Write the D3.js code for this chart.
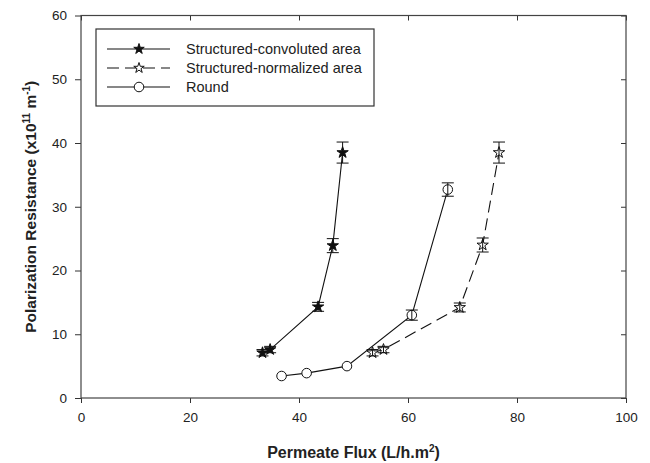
<!DOCTYPE html>
<html>
<head>
<meta charset="utf-8">
<script src="https://cdn.jsdelivr.net/npm/d3@7"></script>
<style>
    body { margin: 0; background: #fff; }
    text { font-family: Arial, "Liberation Sans", Helvetica, sans-serif; fill: #222; }
</style>
</head>
<body>
<div id="chart"></div>
<script>
// data
var convFlux = [33.3, 34.7, 43.5, 46.2, 48.0]
var convRes = [7.1, 7.6, 14.3, 23.9, 38.5]
var convErr = [0.5, 0.5, 0.7, 1.1, 1.65]

var normFlux = [53.5, 55.5, 69.5, 73.7, 76.7]
var normRes = [7.1, 7.6, 14.2, 24.0, 38.5]
var normErr = [0.5, 0.5, 0.7, 1.1, 1.65]

var roundFlux = [36.8, 41.4, 48.8, 60.7, 67.3]
var roundRes = [3.45, 3.9, 5.0, 13.0, 32.7]
var roundErr = [0, 0, 0, 0.8, 1.05]

var xTicks = [0, 20, 40, 60, 80, 100]
var yTicks = [0, 10, 20, 30, 40, 50, 60]
var seriesNames = ["Structured-convoluted area", "Structured-normalized area", "Round"]

var width = 650, height = 463
var plotLeft = 81, plotRight = 626, plotTop = 15.5, plotBottom = 398

var svg = d3.select("#chart").append("svg")
    .attr("width", width)
    .attr("height", height)

var x = d3.scaleLinear().domain([0, 100]).range([plotLeft, plotRight])
var y = d3.scaleLinear().domain([0, 60]).range([plotBottom, plotTop])

// axes
svg.append("g")
    .attr("transform", "translate(0," + plotBottom + ")")
    .call(d3.axisBottom(x).tickValues(xTicks).tickSize(5).tickSizeOuter(0).tickPadding(9))
svg.append("g")
    .attr("transform", "translate(" + plotLeft + ",0)")
    .call(d3.axisLeft(y).tickValues(yTicks).tickSize(6).tickSizeOuter(0).tickPadding(8))
svg.append("g")
    .attr("transform", "translate(0," + plotTop + ")")
    .call(d3.axisTop(x).tickValues(xTicks).tickSize(-5).tickSizeOuter(0).tickFormat(""))
svg.append("g")
    .attr("transform", "translate(" + plotRight + ",0)")
    .call(d3.axisRight(y).tickValues(yTicks).tickSize(-5).tickSizeOuter(0).tickFormat(""))

svg.selectAll(".domain").remove()
svg.selectAll(".tick line").attr("stroke", "#333")
svg.selectAll(".tick text")
    .style("font-size", "13.5px")
    .style("font-family", "Arial, 'Liberation Sans', sans-serif")
    .attr("fill", "#2a2a2a")

// frame
svg.append("rect")
    .attr("x", plotLeft)
    .attr("y", plotTop)
    .attr("width", plotRight - plotLeft)
    .attr("height", plotBottom - plotTop)
    .attr("fill", "none")
    .attr("stroke", "#444")
    .attr("stroke-width", 1.2)

// axis titles
var xTitle = svg.append("text")
    .attr("x", (plotLeft + plotRight) / 2)
    .attr("y", 458)
    .attr("text-anchor", "middle")
    .style("font-size", "16px")
    .style("font-weight", "bold")
xTitle.append("tspan").text("Permeate Flux (L/h.m")
xTitle.append("tspan").attr("dy", -6).style("font-size", "10px").text("2")
xTitle.append("tspan").attr("dy", 6).text(")")

var yTitle = svg.append("text")
    .attr("transform", "translate(36," + ((plotTop + plotBottom) / 2) + ") rotate(-90)")
    .attr("text-anchor", "middle")
    .style("font-size", "15.5px")
    .style("font-weight", "bold")
yTitle.append("tspan").text("Polarization Resistance (x10")
yTitle.append("tspan").attr("dy", -6).style("font-size", "10px").text("11")
yTitle.append("tspan").attr("dy", 6).text(" m")
yTitle.append("tspan").attr("dy", -6).style("font-size", "10px").text("-1")
yTitle.append("tspan").attr("dy", 6).text(")")

// series
var series = [
    { name: seriesNames[0], flux: convFlux, res: convRes, err: convErr, dash: null, shape: "star", fill: "#111" },
    { name: seriesNames[1], flux: normFlux, res: normRes, err: normErr, dash: "12,6", shape: "star", fill: "#fff" },
    { name: seriesNames[2], flux: roundFlux, res: roundRes, err: roundErr, dash: null, shape: "circle", fill: "#fff" }
]

var starSym = d3.symbol().type(d3.symbolStar).size(40)
var legendStar = d3.symbol().type(d3.symbolStar).size(34)
var circleSym = d3.symbol().type(d3.symbolCircle).size(72)

var line = d3.line()
    .x(function (d) { return x(d.f) })
    .y(function (d) { return y(d.r) })

series.forEach(function (s) {
    var pts = s.flux.map(function (f, i) { return { f: f, r: s.res[i], e: s.err[i] } })

    svg.append("path")
        .datum(pts)
        .attr("d", line)
        .attr("fill", "none")
        .attr("stroke", "#111")
        .attr("stroke-width", 1.1)
        .attr("stroke-dasharray", s.dash)

    svg.selectAll(null)
        .data(pts)
        .enter().append("path")
        .attr("transform", function (d) { return "translate(" + x(d.f) + "," + y(d.r) + ")" })
        .attr("d", s.shape == "star" ? starSym : circleSym)
        .attr("fill", s.fill)
        .attr("stroke", "#111")
        .attr("stroke-width", 1)

    // error bars on top of the symbols
    var eb = svg.selectAll(null)
        .data(pts.filter(function (d) { return d.e > 0 }))
        .enter().append("g")
        .attr("stroke", "#111")
        .attr("stroke-width", 1)
    eb.append("line")
        .attr("x1", function (d) { return x(d.f) })
        .attr("x2", function (d) { return x(d.f) })
        .attr("y1", function (d) { return y(d.r + d.e) })
        .attr("y2", function (d) { return y(d.r - d.e) })
    eb.append("line")
        .attr("x1", function (d) { return x(d.f) - 6 })
        .attr("x2", function (d) { return x(d.f) + 6 })
        .attr("y1", function (d) { return y(d.r + d.e) })
        .attr("y2", function (d) { return y(d.r + d.e) })
    eb.append("line")
        .attr("x1", function (d) { return x(d.f) - 6 })
        .attr("x2", function (d) { return x(d.f) + 6 })
        .attr("y1", function (d) { return y(d.r - d.e) })
        .attr("y2", function (d) { return y(d.r - d.e) })
})

// legend
var legend = svg.append("g")
legend.append("rect")
    .attr("x", 96)
    .attr("y", 29)
    .attr("width", 278)
    .attr("height", 77)
    .attr("fill", "#fff")
    .attr("stroke", "#333")
    .attr("stroke-width", 1.2)

series.forEach(function (s, i) {
    var ly = 49 + i * 19
    legend.append("line")
        .attr("x1", 107).attr("x2", 170)
        .attr("y1", ly).attr("y2", ly)
        .attr("stroke", "#111")
        .attr("stroke-width", 1.1)
        .attr("stroke-dasharray", s.dash)
    legend.append("path")
        .attr("transform", "translate(139," + ly + ")")
        .attr("d", s.shape == "star" ? legendStar : circleSym)
        .attr("fill", s.fill)
        .attr("stroke", "#111")
    legend.append("text")
        .attr("x", 186)
        .attr("y", ly + 5)
        .style("font-size", "14.5px")
        .text(s.name)
})
</script>
</body>
</html>
